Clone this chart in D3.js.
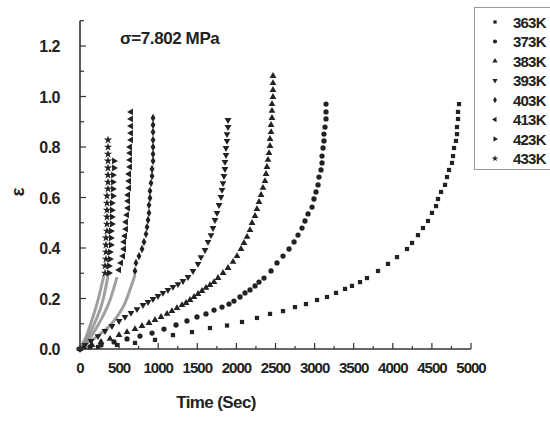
<!DOCTYPE html>
<html>
<head>
<meta charset="utf-8">
<script src="https://cdn.jsdelivr.net/npm/d3@7"></script>
<style>
body { margin: 0; background: #fff; }
text { font-family: "Liberation Sans", Arial, sans-serif; font-weight: bold; fill: #222; }
</style>
</head>
<body>
<div id="chart"></div>
<script>
var temps = ["363K", "373K", "383K", "393K", "403K", "413K", "423K", "433K"];
var xTicks = [0, 500, 1000, 1500, 2000, 2500, 3000, 3500, 4000, 4500, 5000];
var yTicks = [0.0, 0.2, 0.4, 0.6, 0.8, 1.0, 1.2];

// time (s) and strain for each temperature
var t363 = [0, 230, 473, 703, 959, 1189, 1432, 1662, 1880, 2072, 2263, 2430, 2596, 2749, 2890, 3031, 3159, 3274, 3389, 3478, 3581, 3670, 3811, 3939, 4054, 4182, 4246, 4322, 4386, 4450, 4501, 4553, 4578, 4617, 4668, 4693, 4719, 4757, 4770, 4783, 4808, 4821, 4821, 4834, 4834, 4847];
var e363 = [0, 0.008, 0.016, 0.024, 0.036, 0.055, 0.067, 0.083, 0.093, 0.107, 0.123, 0.139, 0.150, 0.166, 0.178, 0.194, 0.206, 0.222, 0.238, 0.250, 0.265, 0.281, 0.309, 0.337, 0.364, 0.396, 0.420, 0.451, 0.479, 0.507, 0.539, 0.566, 0.594, 0.622, 0.650, 0.681, 0.709, 0.737, 0.764, 0.796, 0.824, 0.851, 0.879, 0.911, 0.939, 0.970];

var t373 = [0, 128, 269, 435, 601, 767, 921, 1074, 1228, 1368, 1496, 1611, 1714, 1816, 1905, 1969, 2046, 2110, 2174, 2238, 2289, 2353, 2443, 2519, 2596, 2673, 2737, 2788, 2839, 2877, 2916, 2967, 2992, 3018, 3044, 3056, 3082, 3095, 3095, 3108, 3120, 3120, 3133, 3146, 3146, 3146];
var e373 = [0, 0.008, 0.016, 0.028, 0.040, 0.051, 0.063, 0.079, 0.095, 0.111, 0.127, 0.139, 0.154, 0.166, 0.178, 0.190, 0.206, 0.222, 0.234, 0.250, 0.265, 0.281, 0.309, 0.341, 0.368, 0.396, 0.424, 0.451, 0.479, 0.507, 0.535, 0.562, 0.594, 0.622, 0.650, 0.681, 0.709, 0.737, 0.764, 0.796, 0.824, 0.851, 0.879, 0.911, 0.939, 0.970];

var t383 = [0, 51, 153, 269, 384, 499, 601, 703, 793, 882, 959, 1036, 1113, 1176, 1240, 1304, 1356, 1407, 1458, 1509, 1560, 1611, 1662, 1714, 1765, 1829, 1893, 1957, 2008, 2059, 2097, 2136, 2174, 2200, 2238, 2263, 2289, 2315, 2340, 2366, 2379, 2391, 2404, 2417, 2430, 2430, 2443, 2443, 2455, 2455, 2455, 2468, 2468, 2468, 2468];
var e383 = [0, 0.008, 0.016, 0.028, 0.040, 0.055, 0.067, 0.079, 0.091, 0.103, 0.115, 0.127, 0.139, 0.150, 0.162, 0.174, 0.182, 0.194, 0.206, 0.218, 0.230, 0.242, 0.253, 0.265, 0.281, 0.301, 0.321, 0.345, 0.368, 0.396, 0.420, 0.444, 0.471, 0.499, 0.527, 0.554, 0.582, 0.610, 0.638, 0.665, 0.693, 0.721, 0.749, 0.776, 0.804, 0.832, 0.859, 0.887, 0.915, 0.943, 0.970, 0.998, 1.026, 1.053, 1.081];

var t393 = [0, 64, 141, 230, 320, 409, 499, 575, 652, 729, 806, 870, 934, 997, 1061, 1125, 1189, 1253, 1317, 1381, 1445, 1509, 1547, 1599, 1637, 1675, 1701, 1726, 1752, 1778, 1803, 1816, 1829, 1841, 1854, 1854, 1867, 1867, 1880, 1880, 1893, 1893];
var e393 = [0, 0.016, 0.032, 0.051, 0.071, 0.091, 0.111, 0.127, 0.143, 0.158, 0.174, 0.186, 0.198, 0.210, 0.222, 0.234, 0.246, 0.257, 0.269, 0.285, 0.309, 0.337, 0.364, 0.392, 0.424, 0.451, 0.479, 0.511, 0.539, 0.570, 0.602, 0.630, 0.657, 0.685, 0.713, 0.741, 0.768, 0.796, 0.824, 0.851, 0.879, 0.907];

var t403 = [703, 716, 754, 793, 818, 844, 857, 870, 882, 882, 895, 895, 908, 921, 921, 934, 934, 934, 934, 934, 934, 934];
var e403 = [0.309, 0.341, 0.368, 0.396, 0.424, 0.455, 0.483, 0.511, 0.539, 0.570, 0.598, 0.626, 0.657, 0.685, 0.713, 0.745, 0.772, 0.800, 0.828, 0.859, 0.887, 0.915];

var t413 = [499, 524, 550, 563, 563, 575, 588, 588, 601, 614, 614, 614, 627, 627, 627, 639, 639, 639, 639, 652, 652, 652, 652, 652];
var e413 = [0.313, 0.341, 0.368, 0.396, 0.424, 0.448, 0.475, 0.503, 0.531, 0.558, 0.586, 0.610, 0.638, 0.665, 0.693, 0.721, 0.749, 0.776, 0.800, 0.828, 0.855, 0.883, 0.911, 0.939];

var t423 = [371, 371, 384, 384, 396, 396, 396, 409, 409, 409, 409, 422, 422, 422, 422, 435, 435];
var e423 = [0.301, 0.329, 0.356, 0.384, 0.412, 0.440, 0.467, 0.495, 0.523, 0.550, 0.578, 0.606, 0.634, 0.661, 0.689, 0.717, 0.745];

var t433 = [320, 320, 332, 332, 332, 332, 345, 345, 345, 345, 345, 345, 358, 358, 358, 358, 358, 358, 358, 358];
var e433 = [0.301, 0.329, 0.356, 0.384, 0.412, 0.440, 0.467, 0.495, 0.523, 0.550, 0.578, 0.606, 0.634, 0.661, 0.689, 0.717, 0.745, 0.772, 0.800, 0.828];

// early parts where the points run together into a grey streak
var ts403 = [0, 26, 192, 422, 575, 703];
var es403 = [0, 0.008, 0.044, 0.107, 0.182, 0.293];
var ts413 = [0, 38, 153, 281, 384, 473];
var es413 = [0, 0.012, 0.055, 0.123, 0.194, 0.285];
var ts423 = [0, 26, 102, 205, 294, 358];
var es423 = [0, 0.008, 0.048, 0.115, 0.194, 0.289];
var ts433 = [0, 13, 77, 153, 230, 307];
var es433 = [0, 0.008, 0.048, 0.115, 0.194, 0.293];

var w = 550, h = 421;
var svg = d3.select("#chart").append("svg").attr("width", w).attr("height", h);

var x = d3.scaleLinear().domain([0, 5000]).range([80, 471]);
var y = d3.scaleLinear().domain([0, 1.3]).range([349, 20.75]);

var shapes = [
    {type: d3.symbolSquare, rot: 0, size: 18},
    {type: d3.symbolCircle, rot: 0, size: 22},
    {type: d3.symbolTriangle, rot: 0, size: 20},
    {type: d3.symbolTriangle, rot: 180, size: 20},
    {type: d3.symbolDiamond, rot: 0, size: 20},
    {type: d3.symbolTriangle, rot: -90, size: 20},
    {type: d3.symbolTriangle, rot: 90, size: 20},
    {type: d3.symbolStar, rot: 0, size: 22}
];

var series = [
    [t363, e363], [t373, e373], [t383, e383], [t393, e393],
    [t403, e403], [t413, e413], [t423, e423], [t433, e433]
];
var streaks = [[ts403, es403], [ts413, es413], [ts423, es423], [ts433, es433]];

// streaks
var line = d3.line().curve(d3.curveMonotoneX)
    .x(function (d) { return x(d[0]); })
    .y(function (d) { return y(d[1]); });
streaks.forEach(function (s) {
    var pts = s[0].map(function (v, i) { return [v, s[1][i]]; });
    svg.append("path").attr("d", line(pts))
        .attr("fill", "none").attr("stroke", "#888")
        .attr("stroke-width", 3).attr("opacity", 0.8);
});

// points
series.forEach(function (s, k) {
    var sh = shapes[k];
    var sym = d3.symbol().type(sh.type).size(sh.size);
    var pts = s[0].map(function (v, i) { return [v, s[1][i]]; });
    svg.append("g").selectAll("path")
        .data(pts)
        .enter()
        .append("path")
        .attr("d", sym)
        .attr("transform", function (d) {
            return "translate(" + x(d[0]) + "," + y(d[1]) + ") rotate(" + sh.rot + ")";
        })
        .attr("fill", "#222");
});

// axes
var axisColor = "#333";
svg.append("line").attr("x1", 80).attr("x2", 80).attr("y1", y(1.3)).attr("y2", y(0))
    .attr("stroke", axisColor).attr("stroke-width", 1.6);
svg.append("line").attr("x1", 76).attr("x2", x(5000)).attr("y1", y(0)).attr("y2", y(0))
    .attr("stroke", axisColor).attr("stroke-width", 1.6);

var yMinor = d3.range(0, 14).map(function (i) { return i / 10; });
svg.append("g").selectAll("line").data(yMinor).enter().append("line")
    .attr("x1", 80).attr("x2", function (d, i) { return i % 2 == 0 ? 86 : 84; })
    .attr("y1", function (d) { return y(d); }).attr("y2", function (d) { return y(d); })
    .attr("stroke", axisColor).attr("stroke-width", 1.2);

var xMinor = d3.range(1, 21).map(function (i) { return i * 250; });
svg.append("g").selectAll("line").data(xMinor).enter().append("line")
    .attr("x1", function (d) { return x(d); }).attr("x2", function (d) { return x(d); })
    .attr("y1", y(0)).attr("y2", function (d, i) { return i % 2 == 1 ? y(0) - 6 : y(0) - 3; })
    .attr("stroke", axisColor).attr("stroke-width", 1.2);

svg.append("g").selectAll("text").data(yTicks).enter().append("text")
    .attr("x", 60).attr("y", function (d) { return y(d) + 6; })
    .attr("text-anchor", "end")
    .attr("font-size", "16px").attr("letter-spacing", "-0.5px")
    .text(function (d) { return d.toFixed(1); });

svg.append("g").selectAll("text").data(xTicks).enter().append("text")
    .attr("x", function (d) { return x(d); }).attr("y", 373)
    .attr("text-anchor", "middle")
    .attr("font-size", "15px").attr("letter-spacing", "-1px")
    .text(function (d) { return d; });

svg.append("text").attr("x", 216).attr("y", 408)
    .attr("text-anchor", "middle").attr("font-size", "17px").attr("letter-spacing", "-0.6px")
    .text("Time (Sec)");

svg.append("text").attr("transform", "translate(24,192) rotate(-90)")
    .attr("text-anchor", "middle").attr("font-size", "19px")
    .text("ε");

svg.append("text").attr("x", 120).attr("y", 44)
    .attr("font-size", "17px").attr("letter-spacing", "-0.4px")
    .text("σ=7.802 MPa");

// legend
var lg = svg.append("g");
lg.append("rect").attr("x", 474.5).attr("y", 7.5).attr("width", 90).attr("height", 162)
    .attr("fill", "#fff").attr("stroke", "#999").attr("stroke-width", 1);
temps.forEach(function (tk, k) {
    var sh = shapes[k];
    var yy = 22 + k * 19.5;
    lg.append("path")
        .attr("d", d3.symbol().type(sh.type).size(sh.size * 0.6))
        .attr("transform", "translate(495," + yy + ") rotate(" + sh.rot + ")")
        .attr("fill", "#222");
    lg.append("text").attr("x", 513).attr("y", yy + 5.5)
        .attr("font-size", "15px").attr("letter-spacing", "-0.8px")
        .text(tk);
});
</script>
</body>
</html>
